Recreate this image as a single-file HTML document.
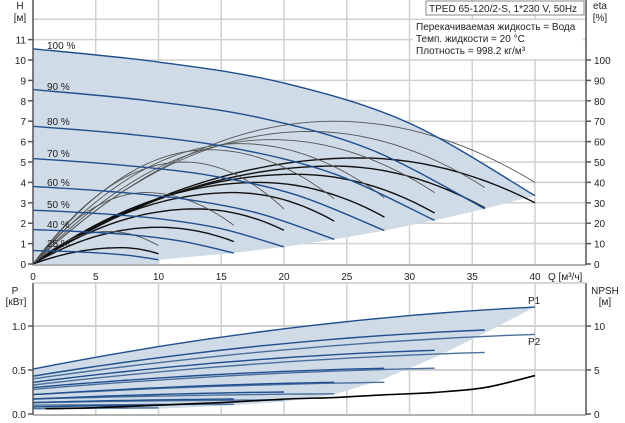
<!DOCTYPE html>
<html><head><meta charset="utf-8"><style>
body{margin:0;background:#fff;}
svg{display:block;font-family:"Liberation Sans","Noto Sans CJK SC",sans-serif;}
</style></head><body>
<svg id="c" width="625" height="423" viewBox="0 0 625 423"></svg>
<script>
const speedLabels=["100 %","90 %","80 %","70 %","60 %","50 %","40 %","25 %"];
const qEnd=[40,36,32,28,24,20,16,10];
const hQ=[[0,10,20,30,40],[0,9,18,27,36],[0,8,16,24,32],[0,7,14,21,28],[0,6,12,18,24],[0,5,10,15,20],[0,4,8,12,16],[0,2.5,5,7.5,10]];
const hVal=[[10.55,9.9,8.87,6.9,3.35],[8.55,8.02,7.18,5.59,2.71],[6.75,6.34,5.68,4.42,2.14],[5.17,4.85,4.35,3.38,1.64],[3.8,3.56,3.19,2.48,1.21],[2.64,2.48,2.22,1.73,0.84],[1.69,1.58,1.42,1.1,0.54],[0.66,0.62,0.55,0.43,0.21]];
const etaThinPeakQ=[24,22,19,16.5,14,12,9,6];
const etaThinPeak=[70,65,61,59,56,50,35,16];
const etaThinEnd=[40,37.5,35,32.5,32,27,19,9];
const etaThickPeakQ=[26,24,21,18,16,13,10,7];
const etaThickPeak=[52,48,44,40,35,27,18,8];
const etaThickEnd=[30,27.5,25,23,21,16.5,11,5];
const p1Start=[0.51,0.43,0.36,0.3,0.22,0.17,0.13,0.08];
const p1End=[1.215,0.955,0.724,0.52,0.36,0.25,0.17,0.1];
const p2Start=[0.4,0.33,0.28,0.22,0.17,0.13,0.1,0.06];
const p2End=[0.905,0.7,0.52,0.36,0.23,0.16,0.11,0.07];
const pShadeQ=[40,36,32,28,24,20,16,10,0];
const pShadeP=[1.215,0.92,0.64,0.4,0.22,0.14,0.1,0.06,0.05];
const npshQ=[1,5,10,15,20,24,28,32,36,40];
const npshV=[0.6,0.72,1.0,1.3,1.69,1.87,2.18,2.45,3.0,4.37];
const qTicks=[0,5,10,15,20,25,30,35,40];
const hTicks=[0,1,2,3,4,5,6,7,8,9,10,11];
const etaTicks=[0,10,20,30,40,50,60,70,80,90,100];
const pTicks=["0.0","0.5","1.0"];
const nTicks=[0,5,10];

const xQ=q=>33+q*12.55, yH=h=>264-h*20.4, yE=e=>264-e*2.04, yP=p=>414-p*88, yN=n=>414-n*8.8;
const svg=document.getElementById('c');const NS="http://www.w3.org/2000/svg";
function mk(t,a,p){const e=document.createElementNS(NS,t);for(const k in a)e.setAttribute(k,a[k]);(p||svg).appendChild(e);return e;}
function txt(s,x,y,anchor,size){const e=mk('text',{x:x,y:y,'font-size':size||10,'text-anchor':anchor||'start',fill:'#222'});e.textContent=s;return e;}
function smooth(pts){let d="M"+pts[0][0]+","+pts[0][1];for(let i=0;i<pts.length-1;i++){const p0=pts[i-1]||pts[i],p1=pts[i],p2=pts[i+1],p3=pts[i+2]||p2;d+=" C"+(p1[0]+(p2[0]-p0[0])/6)+","+(p1[1]+(p2[1]-p0[1])/6)+" "+(p2[0]-(p3[0]-p1[0])/6)+","+(p2[1]-(p3[1]-p1[1])/6)+" "+p2[0]+","+p2[1];}return d;}

// grids top
const g=mk('g',{});
for(let h=1;h<=12;h++){const l=mk('line',{x1:33,x2:585,y1:yH(h),y2:yH(h),stroke:'#d0d0d0','stroke-width':1.5},g);}
for(const q of qTicks.concat([45])){if(q>0&&xQ(q)<585)mk('line',{x1:xQ(q),x2:xQ(q),y1:0,y2:264,stroke:'#d0d0d0','stroke-width':1.5},g);}
for(const q of qTicks){if(q>0)mk('line',{x1:xQ(q),x2:xQ(q),y1:283,y2:414,stroke:'#d0d0d0','stroke-width':1.5},g);}
for(const p of [0.5,1.0])mk('line',{x1:33,x2:585,y1:yP(p),y2:yP(p),stroke:'#d0d0d0','stroke-width':2},g);

// shade top
let sp=[];for(let i=0;i<5;i++)sp.push([xQ(hQ[0][i]),yH(hVal[0][i])]);
let d=smooth(sp);for(let k=0;k<8;k++)d+=" L"+xQ(qEnd[k])+","+yH(hVal[k][4]);
d+=" L"+xQ(10)+","+yH(0)+" L"+xQ(0)+","+yH(0)+"Z";
const sh=mk('path',{d:d,fill:'#cfdbe6'});

// eta curves
function etaPath(pq,pk,en,qe){const pts=[];for(let i=0;i<=40;i++){const q=qe*i/40;let e;if(q<=pq){const t=1-q/pq;e=pk*(1-t*t);}else{const t=(q-pq)/(qe-pq);e=pk-(pk-en)*t*t;}pts.push(xQ(q).toFixed(1)+","+yE(e).toFixed(1));}return "M"+pts.join(" L");}
for(let k=0;k<8;k++){
 const a=mk('path',{d:etaPath(etaThinPeakQ[k],etaThinPeak[k],etaThinEnd[k],qEnd[k]),fill:'none',stroke:'#555','stroke-width':0.9});
 
 const b=mk('path',{d:etaPath(etaThickPeakQ[k],etaThickPeak[k],etaThickEnd[k],qEnd[k]),fill:'none',stroke:'#111','stroke-width':1.4});
 
}
// H curves
for(let k=0;k<8;k++){const pts=[];for(let i=0;i<5;i++)pts.push([xQ(hQ[k][i]),yH(hVal[k][i])]);
 const c=mk('path',{d:smooth(pts),fill:'none',stroke:'#1f4f8f','stroke-width':1.4});
 
 const t=txt(speedLabels[k],47,[49,90,125,157,186,208,228,247][k]);
 }

// bottom shade
let bd="M"+xQ(0)+","+yP(p1Start[0]);
for(let i=1;i<=20;i++){const t=i/20;bd+=" L"+xQ(40*t)+","+yP(p1Start[0]+(p1End[0]-p1Start[0])*t*(1.6-0.6*t));}
for(let i=0;i<pShadeQ.length;i++)bd+=" L"+xQ(pShadeQ[i])+","+yP(pShadeP[i]);bd+="Z";
const bs=mk('path',{d:bd,fill:'#cfdbe6'});
function pPath(s,e,qe){let p="";for(let i=0;i<=20;i++){const t=i/20;p+=(i?" L":"M")+xQ(qe*t).toFixed(1)+","+yP(s+(e-s)*t*(1.6-0.6*t)).toFixed(1);}return p;}
for(let k=0;k<8;k++){
 const a=mk('path',{d:pPath(p1Start[k],p1End[k],qEnd[k]),fill:'none',stroke:'#1f4f8f','stroke-width':1.4});
 
 const b=mk('path',{d:pPath(p2Start[k],p2End[k],qEnd[k]),fill:'none',stroke:'#4a6f9c','stroke-width':1.4});
 }
const np=[];for(let i=0;i<npshQ.length;i++)np.push([xQ(npshQ[i]),yN(npshV[i])]);
const nc=mk('path',{d:smooth(np),fill:'none',stroke:'#000','stroke-width':1.6});
let t=txt("P1",528,304);
t=txt("P2",528,345);

// axes
const ax=mk('g',{stroke:'#555','stroke-width':1.5});
mk('line',{x1:33,x2:33,y1:0,y2:265},ax);mk('line',{x1:33,x2:586,y1:265,y2:265,stroke:'#999'},ax);mk('line',{x1:586,x2:586,y1:0,y2:265},ax);
mk('line',{x1:33,x2:33,y1:283,y2:415},ax);mk('line',{x1:33,x2:586,y1:415,y2:415,stroke:'#999'},ax);mk('line',{x1:586,x2:586,y1:283,y2:415},ax);
mk('line',{x1:33,x2:586,y1:283,y2:283,stroke:'#ccc'},ax);
for(const h of hTicks){mk('line',{x1:28,x2:33,y1:yH(h),y2:yH(h)},ax);t=txt(String(h),26,yH(h)+4,'end');}
for(const e of etaTicks){mk('line',{x1:586,x2:591,y1:yE(e),y2:yE(e)},ax);t=txt(String(e),594,yE(e)+4);}
for(const q of qTicks){t=txt(String(q),xQ(q),280,'middle');}
for(const p of pTicks){mk('line',{x1:28,x2:33,y1:yP(+p),y2:yP(+p)},ax);t=txt(p,26,yP(+p)+4,'end');}
for(const n of nTicks){mk('line',{x1:586,x2:591,y1:yN(n),y2:yN(n)},ax);t=txt(String(n),594,yN(n)+4);}
t=txt("Q [м³/ч]",548,280);
t=txt("H",20,9,'middle');
t=txt("[м]",20,21,'middle');
t=txt("eta",600,9,'middle');
t=txt("[%]",600,21,'middle');
t=txt("P",15,294,'middle');
t=txt("[кВт]",16,305,'middle');
t=txt("NPSH",605,294,'middle');
t=txt("[м]",605,305,'middle');

// info box
const ib=mk('rect',{x:413,y:20,width:170,height:39,fill:'#fff'});
const tb=mk('rect',{x:426,y:1,width:158,height:14,fill:'#fff',stroke:'#888','stroke-width':1});
t=txt("TPED 65-120/2-S, 1*230 V, 50Hz",429,12);
t=txt("Перекачиваемая жидкость = Вода",416,30);
t=txt("Темп. жидкости = 20 °C",416,42);
t=txt("Плотность = 998.2 кг/м³",416,54);
</script>
</body></html>
